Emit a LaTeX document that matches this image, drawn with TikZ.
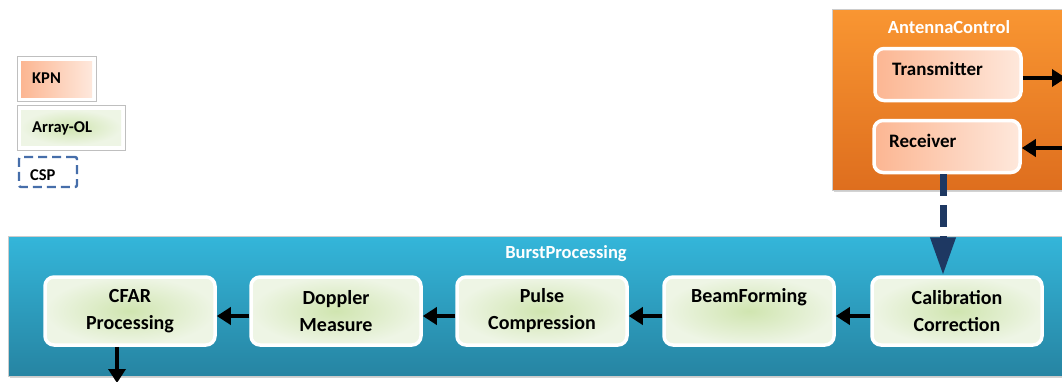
\documentclass[tikz,border=0pt]{standalone}
\usepackage{fontspec}
\setmainfont{Carlito}
\usetikzlibrary{arrows.meta,shadows,calc}
\definecolor{orTop}{RGB}{249,150,50}
\definecolor{orBot}{RGB}{222,110,30}
\definecolor{blTop}{RGB}{52,182,218}
\definecolor{blBot}{RGB}{38,132,162}
\definecolor{grIn}{RGB}{208,229,176}
\definecolor{grOut}{RGB}{238,245,229}
\definecolor{saDark}{RGB}{252,182,146}
\definecolor{saLight}{RGB}{254,232,220}
\definecolor{navy}{RGB}{30,56,98}
\definecolor{cspblue}{RGB}{70,110,170}
\begin{document}
\begin{tikzpicture}[x=1pt,y=-1pt,
  container/.style={rectangle, draw=black!20, line width=0.6pt, drop shadow={opacity=0.35, shadow xshift=1.5pt, shadow yshift=-1.5pt}},
  orangebox/.style={container, top color=orTop, bottom color=orBot},
  bluebox/.style={container, top color=blTop, bottom color=blBot},
  title/.style={font=\bfseries\fontsize{18.5}{22}\selectfont, text=white, inner sep=0pt, anchor=base},
  aobox/.style={rectangle, rounded corners=9pt, draw=white, line width=3.5pt, inner color=grIn, outer color=grOut,
     minimum width=170pt, minimum height=68pt, align=center, font=\bfseries\fontsize{20}{27}\selectfont,
     drop shadow={opacity=0.3, shadow xshift=1pt, shadow yshift=-1pt}},
  kpnbox/.style={rectangle, rounded corners=9pt, draw=white, line width=3.5pt, shading angle=135, left color=saDark, right color=saLight,
     minimum width=146pt, minimum height=52pt,
     drop shadow={opacity=0.3, shadow xshift=1pt, shadow yshift=-1pt}},
  label/.style={font=\bfseries\fontsize{19}{22}\selectfont, inner sep=0pt, anchor=base west},
  leglabel/.style={font=\bfseries\fontsize{16.5}{19}\selectfont, inner sep=0pt, anchor=base west},
  flow/.style={line width=4pt, -{Triangle[length=14pt,width=17pt]}},
]
\useasboundingbox (0,0) rectangle (1062,381);

% ---------- legend ----------
\node[rectangle, draw=black!25, line width=0.6pt, fill=white, minimum width=79pt, minimum height=45pt, inner sep=0pt] (kpnframe) at (56.5,78.5) {};
\node[rectangle, left color=saDark, right color=saLight, minimum width=71pt, minimum height=36pt, inner sep=0pt] (kpnleg) at (56.5,79) {};
\node[leglabel] (kpntext) at (32,83) {KPN};

\node[rectangle, draw=black!25, line width=0.6pt, fill=white, minimum width=108pt, minimum height=45pt, inner sep=0pt] (aoframe) at (71,127.5) {};
\node[rectangle, inner color=grIn, outer color=grOut, minimum width=100pt, minimum height=35pt, inner sep=0pt] (aoleg) at (71,127.5) {};
\node[leglabel] (aotext) at (32,132) {Array-OL};

\node[rectangle, draw=cspblue, line width=2.4pt, dash pattern=on 9pt off 5pt, rounded corners=2pt, fill=white, minimum width=58pt, minimum height=30pt, inner sep=0pt] (cspleg) at (48,172) {};
\node[leglabel] (csptext) at (30,180) {CSP};

% ---------- containers ----------
\node[orangebox, minimum width=234pt, minimum height=181pt, inner sep=0pt] (ac) at (949,99.5) {};
\node[title] (actitle) at (949,33) {AntennaControl};

\node[bluebox, minimum width=1060pt, minimum height=140pt, inner sep=0pt] (bp) at (538,306) {};
\node[title] (bptitle) at (566,258) {BurstProcessing};

% ---------- antenna nodes ----------
\node[kpnbox] (trans) at (948,74.5) {};
\node[label] (transtext) at (892,75) {Transmitter};
\node[kpnbox] (rec) at (947,146.5) {};
\node[label] (rectext) at (889,147) {Receiver};

% ---------- burst nodes ----------
\node[aobox] (cfar) at (130,311) {CFAR\\Processing};
\node[aobox] (dop) at (336,311) {Doppler\\Measure};
\node[aobox] (pulse) at (542,311) {Pulse\\Compression};
\node[aobox] (beam) at (749,311) {BeamForming\\\phantom{g}};
\node[aobox] (cal) at (957,311) {Calibration\\Correction};

% ---------- connectors ----------
\coordinate (txout) at (1066,78);
\coordinate (rxin) at (1066,148);
\coordinate (cfarout) at (117,383);
\draw[flow] ([yshift=-3.5pt]trans.east) -- ([yshift=-3.5pt]trans.east -| txout);
\draw[flow] ([yshift=-1.5pt]rec.east -| rxin) -- ([yshift=-1.5pt]rec.east);

\draw[flow] ([yshift=-5pt]dop.west) -- ([yshift=-5pt]cfar.east);
\draw[flow] ([yshift=-5pt]pulse.west) -- ([yshift=-5pt]dop.east);
\draw[flow] ([yshift=-5pt]beam.west) -- ([yshift=-5pt]pulse.east);
\draw[flow] ([yshift=-5pt]cal.west) -- ([yshift=-5pt]beam.east);
\draw[flow] (cfar.south -| cfarout) -- (cfarout);

\coordinate (dashstart) at ($(rec.south)+(-4,0)$);
\draw[navy, line width=7pt, dash pattern=on 22pt off 9pt, -{Triangle[length=38pt,width=24pt]}]
  (dashstart) -- (dashstart |- cal.north);
\end{tikzpicture}
\end{document}
